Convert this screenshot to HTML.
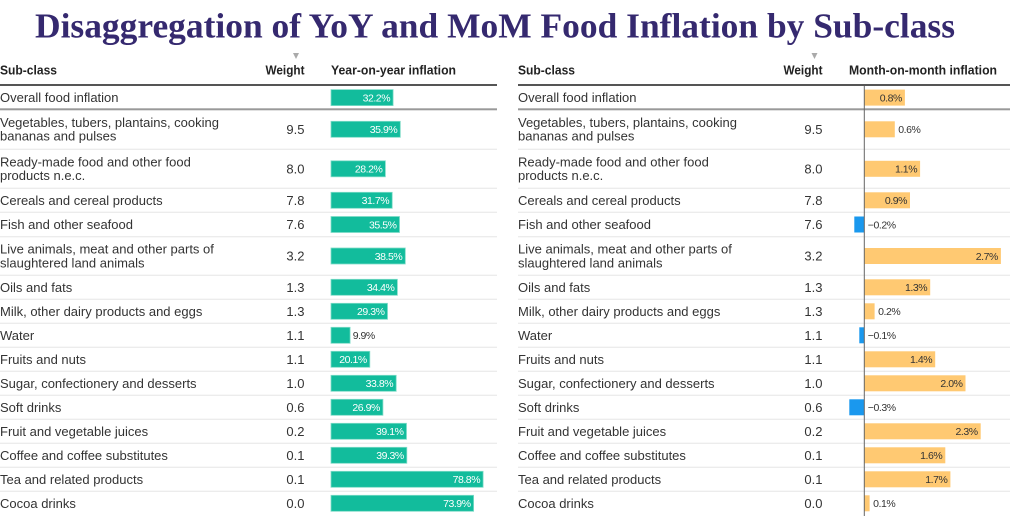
<!DOCTYPE html>
<html>
<head>
<meta charset="utf-8">
<style>
html,body{margin:0;padding:0;background:#fff;}
body{width:1010px;height:517px;overflow:hidden;}
svg{display:block;}
.t{font-family:"Liberation Sans",Arial,sans-serif;font-size:13px;fill:#333;}
.h{font-family:"Liberation Sans",Arial,sans-serif;font-size:13px;font-weight:bold;fill:#222;}
.lw{font-family:"Liberation Sans",Arial,sans-serif;font-size:10.5px;fill:#fff;letter-spacing:-0.45px;}
.ld{font-family:"Liberation Sans",Arial,sans-serif;font-size:10.5px;fill:#333;letter-spacing:-0.45px;}
.sep{stroke:#e6e6e6;stroke-width:1;}
.tb{fill:#12bc9c;stroke:#7fdcc8;stroke-width:0.8;}
.ob{fill:#ffc972;}
.bb{fill:#1a98ee;}
</style>
</head>
<body>
<svg width="1010" height="517" viewBox="0 0 1010 517" xmlns="http://www.w3.org/2000/svg">
<!-- Title -->
<text x="35" y="37.5" textLength="920" lengthAdjust="spacingAndGlyphs" style="font-family:'Liberation Serif','Times New Roman',serif;font-size:35px;font-weight:bold;fill:#35296f;">Disaggregation of YoY and MoM Food Inflation by Sub-class</text>

<!-- Headers -->
<polygon points="293,53 299,53 296,59" fill="#aaa"/>
<polygon points="811.5,53 817.5,53 814.5,59" fill="#aaa"/>
<text class="h" x="0" y="74.5" textLength="57" lengthAdjust="spacingAndGlyphs">Sub-class</text>
<text class="h" x="304.5" y="74.5" text-anchor="end" textLength="39" lengthAdjust="spacingAndGlyphs">Weight</text>
<text class="h" x="331" y="74.5" textLength="125" lengthAdjust="spacingAndGlyphs">Year-on-year inflation</text>
<text class="h" x="518" y="74.5" textLength="57" lengthAdjust="spacingAndGlyphs">Sub-class</text>
<text class="h" x="822.5" y="74.5" text-anchor="end" textLength="39" lengthAdjust="spacingAndGlyphs">Weight</text>
<text class="h" x="849" y="74.5" textLength="148" lengthAdjust="spacingAndGlyphs">Month-on-month inflation</text>

<!-- Header lines -->
<rect x="0" y="84" width="497" height="2" fill="#555"/>
<rect x="518" y="84" width="492" height="2" fill="#555"/>
<!-- Overall separator -->
<rect x="0" y="108.3" width="497" height="2" fill="#999"/>
<rect x="518" y="108.3" width="492" height="2" fill="#999"/>

<!-- Row separators -->
<g class="sep">
<line x1="0" x2="497" y1="149.3" y2="149.3"/><line x1="518" x2="1010" y1="149.3" y2="149.3"/>
<line x1="0" x2="497" y1="188.3" y2="188.3"/><line x1="518" x2="1010" y1="188.3" y2="188.3"/>
<line x1="0" x2="497" y1="212.3" y2="212.3"/><line x1="518" x2="1010" y1="212.3" y2="212.3"/>
<line x1="0" x2="497" y1="236.7" y2="236.7"/><line x1="518" x2="1010" y1="236.7" y2="236.7"/>
<line x1="0" x2="497" y1="275.3" y2="275.3"/><line x1="518" x2="1010" y1="275.3" y2="275.3"/>
<line x1="0" x2="497" y1="299.3" y2="299.3"/><line x1="518" x2="1010" y1="299.3" y2="299.3"/>
<line x1="0" x2="497" y1="323.3" y2="323.3"/><line x1="518" x2="1010" y1="323.3" y2="323.3"/>
<line x1="0" x2="497" y1="347.3" y2="347.3"/><line x1="518" x2="1010" y1="347.3" y2="347.3"/>
<line x1="0" x2="497" y1="371.3" y2="371.3"/><line x1="518" x2="1010" y1="371.3" y2="371.3"/>
<line x1="0" x2="497" y1="395.3" y2="395.3"/><line x1="518" x2="1010" y1="395.3" y2="395.3"/>
<line x1="0" x2="497" y1="419.3" y2="419.3"/><line x1="518" x2="1010" y1="419.3" y2="419.3"/>
<line x1="0" x2="497" y1="443.3" y2="443.3"/><line x1="518" x2="1010" y1="443.3" y2="443.3"/>
<line x1="0" x2="497" y1="467.3" y2="467.3"/><line x1="518" x2="1010" y1="467.3" y2="467.3"/>
<line x1="0" x2="497" y1="491.3" y2="491.3"/><line x1="518" x2="1010" y1="491.3" y2="491.3"/>
</g>

<!-- LEFT TABLE -->
<text class="t" x="0" y="102.1">Overall food inflation</text>
<rect class="tb" x="331" y="89.6" width="62.1" height="16"/>
<text class="lw" x="390.1" y="101.4" text-anchor="end">32.2%</text>

<text class="t" x="0" y="127">Vegetables, tubers, plantains, cooking</text>
<text class="t" x="0" y="140.6">bananas and pulses</text>
<text class="t" x="304.5" y="133.8" text-anchor="end">9.5</text>
<rect class="tb" x="331" y="121.3" width="69.3" height="16"/>
<text class="lw" x="397.3" y="133.1" text-anchor="end">35.9%</text>

<text class="t" x="0" y="166.5">Ready-made food and other food</text>
<text class="t" x="0" y="180.1">products n.e.c.</text>
<text class="t" x="304.5" y="173.3" text-anchor="end">8.0</text>
<rect class="tb" x="331" y="160.8" width="54.4" height="16"/>
<text class="lw" x="382.4" y="172.6" text-anchor="end">28.2%</text>

<text class="t" x="0" y="204.8">Cereals and cereal products</text>
<text class="t" x="304.5" y="204.8" text-anchor="end">7.8</text>
<rect class="tb" x="331" y="192.3" width="61.2" height="16"/>
<text class="lw" x="389.2" y="204.1" text-anchor="end">31.7%</text>

<text class="t" x="0" y="229">Fish and other seafood</text>
<text class="t" x="304.5" y="229" text-anchor="end">7.6</text>
<rect class="tb" x="331" y="216.5" width="68.5" height="16"/>
<text class="lw" x="396.5" y="228.3" text-anchor="end">35.5%</text>

<text class="t" x="0" y="253.7">Live animals, meat and other parts of</text>
<text class="t" x="0" y="267.3">slaughtered land animals</text>
<text class="t" x="304.5" y="260.5" text-anchor="end">3.2</text>
<rect class="tb" x="331" y="248" width="74.3" height="16"/>
<text class="lw" x="402.3" y="259.8" text-anchor="end">38.5%</text>

<text class="t" x="0" y="291.8">Oils and fats</text>
<text class="t" x="304.5" y="291.8" text-anchor="end">1.3</text>
<rect class="tb" x="331" y="279.3" width="66.4" height="16"/>
<text class="lw" x="394.4" y="291.1" text-anchor="end">34.4%</text>

<text class="t" x="0" y="315.8">Milk, other dairy products and eggs</text>
<text class="t" x="304.5" y="315.8" text-anchor="end">1.3</text>
<rect class="tb" x="331" y="303.3" width="56.5" height="16"/>
<text class="lw" x="384.5" y="315.1" text-anchor="end">29.3%</text>

<text class="t" x="0" y="339.8">Water</text>
<text class="t" x="304.5" y="339.8" text-anchor="end">1.1</text>
<rect class="tb" x="331" y="327.3" width="19.1" height="16"/>
<text class="ld" x="352.7" y="339.1">9.9%</text>

<text class="t" x="0" y="363.8">Fruits and nuts</text>
<text class="t" x="304.5" y="363.8" text-anchor="end">1.1</text>
<rect class="tb" x="331" y="351.3" width="38.8" height="16"/>
<text class="lw" x="366.8" y="363.1" text-anchor="end">20.1%</text>

<text class="t" x="0" y="387.8">Sugar, confectionery and desserts</text>
<text class="t" x="304.5" y="387.8" text-anchor="end">1.0</text>
<rect class="tb" x="331" y="375.3" width="65.2" height="16"/>
<text class="lw" x="393.2" y="387.1" text-anchor="end">33.8%</text>

<text class="t" x="0" y="411.8">Soft drinks</text>
<text class="t" x="304.5" y="411.8" text-anchor="end">0.6</text>
<rect class="tb" x="331" y="399.3" width="51.9" height="16"/>
<text class="lw" x="379.9" y="411.1" text-anchor="end">26.9%</text>

<text class="t" x="0" y="435.8">Fruit and vegetable juices</text>
<text class="t" x="304.5" y="435.8" text-anchor="end">0.2</text>
<rect class="tb" x="331" y="423.3" width="75.5" height="16"/>
<text class="lw" x="403.5" y="435.1" text-anchor="end">39.1%</text>

<text class="t" x="0" y="459.8">Coffee and coffee substitutes</text>
<text class="t" x="304.5" y="459.8" text-anchor="end">0.1</text>
<rect class="tb" x="331" y="447.3" width="75.8" height="16"/>
<text class="lw" x="403.8" y="459.1" text-anchor="end">39.3%</text>

<text class="t" x="0" y="483.8">Tea and related products</text>
<text class="t" x="304.5" y="483.8" text-anchor="end">0.1</text>
<rect class="tb" x="331" y="471.3" width="152.1" height="16"/>
<text class="lw" x="480.1" y="483.1" text-anchor="end">78.8%</text>

<text class="t" x="0" y="507.8">Cocoa drinks</text>
<text class="t" x="304.5" y="507.8" text-anchor="end">0.0</text>
<rect class="tb" x="331" y="495.3" width="142.6" height="16"/>
<text class="lw" x="470.6" y="507.1" text-anchor="end">73.9%</text>

<!-- RIGHT TABLE -->
<rect class="ob" x="864.5" y="89.6" width="40.4" height="16"/>
<rect class="ob" x="864.5" y="121.3" width="30.3" height="16"/>
<rect class="ob" x="864.5" y="160.8" width="55.6" height="16"/>
<rect class="ob" x="864.5" y="192.3" width="45.5" height="16"/>
<rect class="bb" x="854.3" y="216.5" width="10.2" height="16"/>
<rect class="ob" x="864.5" y="248" width="136.4" height="16"/>
<rect class="ob" x="864.5" y="279.3" width="65.7" height="16"/>
<rect class="ob" x="864.5" y="303.3" width="10.1" height="16"/>
<rect class="bb" x="859.3" y="327.3" width="5.2" height="16"/>
<rect class="ob" x="864.5" y="351.3" width="70.7" height="16"/>
<rect class="ob" x="864.5" y="375.3" width="101" height="16"/>
<rect class="bb" x="849.3" y="399.3" width="15.2" height="16"/>
<rect class="ob" x="864.5" y="423.3" width="116.2" height="16"/>
<rect class="ob" x="864.5" y="447.3" width="80.8" height="16"/>
<rect class="ob" x="864.5" y="471.3" width="85.9" height="16"/>
<rect class="ob" x="864.5" y="495.3" width="5.1" height="16"/>
<line x1="864.3" x2="864.3" y1="86" y2="516" stroke="#666" stroke-width="1"/>

<text class="t" x="518" y="102.1">Overall food inflation</text>
<text class="ld" x="901.9" y="101.4" text-anchor="end">0.8%</text>

<text class="t" x="518" y="127">Vegetables, tubers, plantains, cooking</text>
<text class="t" x="518" y="140.6">bananas and pulses</text>
<text class="t" x="822.5" y="133.8" text-anchor="end">9.5</text>
<text class="ld" x="898.3" y="133.1">0.6%</text>

<text class="t" x="518" y="166.5">Ready-made food and other food</text>
<text class="t" x="518" y="180.1">products n.e.c.</text>
<text class="t" x="822.5" y="173.3" text-anchor="end">8.0</text>
<text class="ld" x="917.1" y="172.6" text-anchor="end">1.1%</text>

<text class="t" x="518" y="204.8">Cereals and cereal products</text>
<text class="t" x="822.5" y="204.8" text-anchor="end">7.8</text>
<text class="ld" x="907" y="204.1" text-anchor="end">0.9%</text>

<text class="t" x="518" y="229">Fish and other seafood</text>
<text class="t" x="822.5" y="229" text-anchor="end">7.6</text>
<text class="ld" x="867.8" y="228.3">−0.2%</text>

<text class="t" x="518" y="253.7">Live animals, meat and other parts of</text>
<text class="t" x="518" y="267.3">slaughtered land animals</text>
<text class="t" x="822.5" y="260.5" text-anchor="end">3.2</text>
<text class="ld" x="997.9" y="259.8" text-anchor="end">2.7%</text>

<text class="t" x="518" y="291.8">Oils and fats</text>
<text class="t" x="822.5" y="291.8" text-anchor="end">1.3</text>
<text class="ld" x="927.2" y="291.1" text-anchor="end">1.3%</text>

<text class="t" x="518" y="315.8">Milk, other dairy products and eggs</text>
<text class="t" x="822.5" y="315.8" text-anchor="end">1.3</text>
<text class="ld" x="878.1" y="315.1">0.2%</text>

<text class="t" x="518" y="339.8">Water</text>
<text class="t" x="822.5" y="339.8" text-anchor="end">1.1</text>
<text class="ld" x="867.8" y="339.1">−0.1%</text>

<text class="t" x="518" y="363.8">Fruits and nuts</text>
<text class="t" x="822.5" y="363.8" text-anchor="end">1.1</text>
<text class="ld" x="932.2" y="363.1" text-anchor="end">1.4%</text>

<text class="t" x="518" y="387.8">Sugar, confectionery and desserts</text>
<text class="t" x="822.5" y="387.8" text-anchor="end">1.0</text>
<text class="ld" x="962.5" y="387.1" text-anchor="end">2.0%</text>

<text class="t" x="518" y="411.8">Soft drinks</text>
<text class="t" x="822.5" y="411.8" text-anchor="end">0.6</text>
<text class="ld" x="867.8" y="411.1">−0.3%</text>

<text class="t" x="518" y="435.8">Fruit and vegetable juices</text>
<text class="t" x="822.5" y="435.8" text-anchor="end">0.2</text>
<text class="ld" x="977.7" y="435.1" text-anchor="end">2.3%</text>

<text class="t" x="518" y="459.8">Coffee and coffee substitutes</text>
<text class="t" x="822.5" y="459.8" text-anchor="end">0.1</text>
<text class="ld" x="942.3" y="459.1" text-anchor="end">1.6%</text>

<text class="t" x="518" y="483.8">Tea and related products</text>
<text class="t" x="822.5" y="483.8" text-anchor="end">0.1</text>
<text class="ld" x="947.4" y="483.1" text-anchor="end">1.7%</text>

<text class="t" x="518" y="507.8">Cocoa drinks</text>
<text class="t" x="822.5" y="507.8" text-anchor="end">0.0</text>
<text class="ld" x="873.1" y="507.1">0.1%</text>
</svg>
</body>
</html>
